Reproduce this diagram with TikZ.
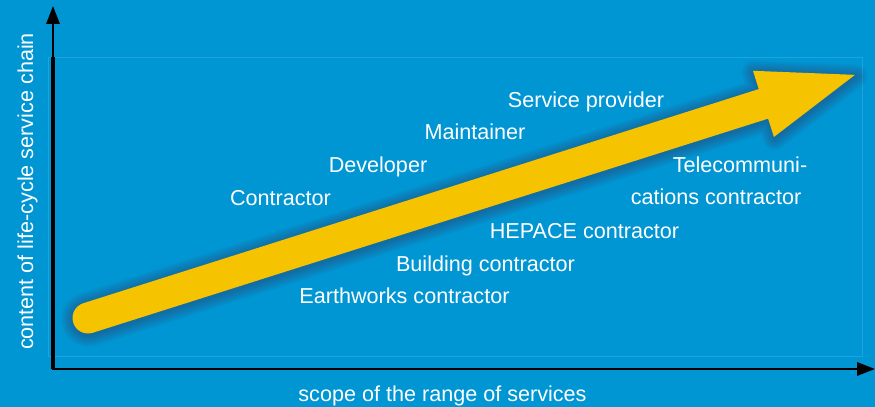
\documentclass[tikz,border=0pt]{standalone}
\usepackage{fontspec}
\setmainfont{Liberation Sans}
\usetikzlibrary{arrows.meta}
\definecolor{bgblue}{RGB}{0,150,211}
\definecolor{rimblue}{RGB}{30,164,220}
\definecolor{arrowyellow}{RGB}{246,195,0}
\definecolor{shadowtone}{RGB}{60,55,100}
\tikzset{tiptri/.tip={Triangle[length=13.5pt,width=10pt]}}
\begin{document}
\begin{tikzpicture}[x=0.75pt,y=0.75pt,
  lbl/.style={text=white, font=\fontsize{16.2}{19}\selectfont, inner sep=0pt, anchor=base},
  axisline/.style={black, line width=1.7pt},
  arrowpath/.style={insert path={(0,15.5) -- (708.6,15.5) -- (708.6,34.7) -- (804.6,0)
      -- (708.6,-34.7) -- (708.6,-15.5) -- (0,-15.5)
      arc[start angle=-90, end angle=-270, radius=15.5] -- cycle}}]
  % background and plot frame
  \fill[bgblue] (0,0) rectangle (875,407);
  \useasboundingbox (0,0) rectangle (875,407);
  \draw[rimblue, line width=0.6pt] (48,51) rectangle (862,350);

  % axes
  \coordinate (origin) at (53,38);
  \coordinate (ytop) at (53,401);
  \coordinate (xend) at (875,38);
  \coordinate (frametop) at (53,350);
  \draw[axisline, tiptri-tiptri] (ytop) -- (origin) -- (xend);
  \draw[black, line width=2.5pt] (origin) -- (frametop);

  % rising arrow with a soft shadow
  \begin{scope}[shift={(88.5,87.5)}, rotate=17.59]
    \foreach \k [evaluate=\k as \w using 1.5*\k] in {1,...,12}
      \draw[shadowtone, opacity=0.04, line width=\w pt, line join=round, arrowpath];
  \end{scope}
  \begin{scope}[shift={(88,89)}, rotate=17.59]
    \fill[arrowyellow, arrowpath];
  \end{scope}

  % role labels
  \node[lbl] (sp)  at (586,299.5) {Service provider};
  \node[lbl] (mt)  at (475,267.5) {Maintainer};
  \node[lbl] (dv)  at (378,234.5) {Developer};
  \node[lbl] (ct)  at (280.5,201.5) {Contractor};
  \node[lbl] (tc1) at (740,234.5) {Telecommuni-};
  \node[lbl] (tc2) at (716,202.5) {cations contractor};
  \node[lbl] (hp)  at (584.5,168.5) {HEPACE contractor};
  \node[lbl] (bc)  at (485.5,135.5) {Building contractor};
  \node[lbl] (ec)  at (404.5,103.5) {Earthworks contractor};

  % axis titles
  \node[lbl] (xlab) at (442.5,5.5) {scope of the range of services};
  \node[lbl, rotate=90] (ylab) at (33,215.5) {content of life-cycle service chain};
\end{tikzpicture}
\end{document}
